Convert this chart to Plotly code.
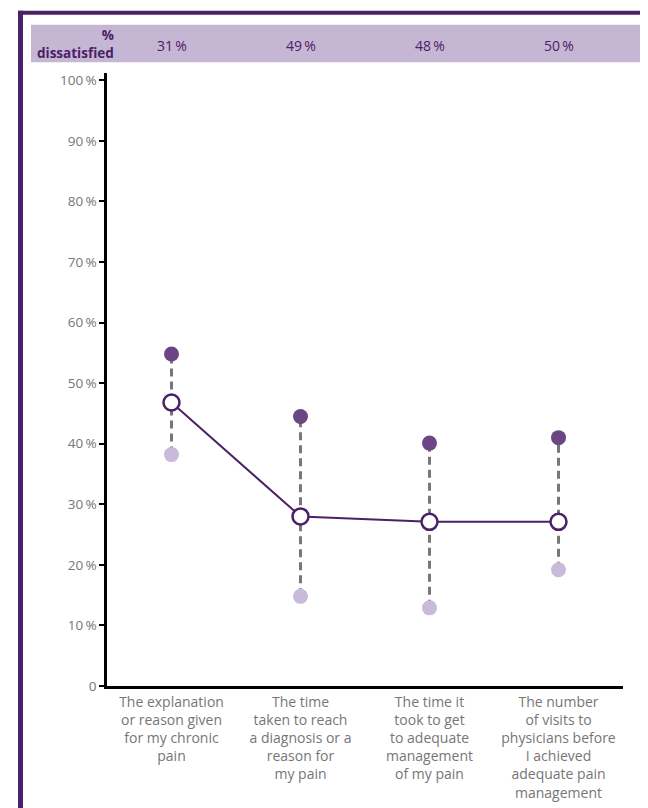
import plotly.graph_objects as go

categories = [
    "The explanation<br>or reason given<br>for my chronic<br>pain",
    "The time<br>taken to reach<br>a diagnosis or a<br>reason for<br>my pain",
    "The time it<br>took to get<br>to adequate<br>management<br>of my pain",
    "The number<br>of visits to<br>physicians before<br>I achieved<br>adequate pain<br>management",
]
dissatisfied = ["31\u2009%", "49\u2009%", "48\u2009%", "50\u2009%"]
top_values = [54.8, 44.5, 40.1, 41.0]
mid_values = [46.8, 28.0, 27.1, 27.1]
low_values = [38.2, 14.8, 12.9, 19.2]
y_ticks = [0, 10, 20, 30, 40, 50, 60, 70, 80, 90, 100]
y_ticklabels = ["0"] + [f"{v}\u2009%" for v in y_ticks[1:]]

YMAX = 101.2
OFF = 8  # page body margin
W, H = 648 - OFF, 808 - OFF
# page px positions of the plot area
PL, PR, PB = 107, 623, 686
P100 = 80.5
PT = PB - YMAX / 100 * (PB - P100)
L, R, T, B = PL - OFF, PR - OFF, PT - OFF, PB - OFF
PW, PH = R - L, B - T

def px(x):
    return (x - OFF - L) / PW

def py(y):
    return (B - (y - OFF)) / PH

DARK = "#4a2168"
TOPC = "#6b4584"
LOWC = "#c8bad8"
BAND = "#c5b7d3"
GRAY = "#767676"
FONT = "Open Sans"

xs = list(range(len(categories)))

# dashed connectors
dx, dy = [], []
for i in xs:
    dx += [i, i, None]
    dy += [low_values[i], top_values[i], None]

fig = go.Figure()
fig.add_trace(go.Scatter(x=dx, y=dy, mode="lines",
                         line=dict(color="#777777", width=3, dash="8px,5px"),
                         hoverinfo="skip", showlegend=False))
fig.add_trace(go.Scatter(x=xs, y=top_values, mode="markers",
                         marker=dict(color=TOPC, size=15), showlegend=False))
fig.add_trace(go.Scatter(x=xs, y=low_values, mode="markers",
                         marker=dict(color=LOWC, size=15), showlegend=False))
fig.add_trace(go.Scatter(x=xs, y=mid_values, mode="lines+markers",
                         line=dict(color=DARK, width=2),
                         marker=dict(color="white", size=16,
                                     line=dict(color=DARK, width=2.5)),
                         showlegend=False))

shapes = [
    # band
    dict(type="rect", xref="paper", yref="paper", x0=px(31), x1=px(670),
         y0=py(62.5), y1=py(25), fillcolor=BAND, line=dict(width=0), layer="below"),
    # frame top
    dict(type="rect", xref="paper", yref="paper", x0=px(18), x1=px(670),
         y0=py(15), y1=py(11), fillcolor=DARK, line=dict(width=0)),
    # frame left
    dict(type="rect", xref="paper", yref="paper", x0=px(18), x1=px(23),
         y0=py(830), y1=py(11), fillcolor=DARK, line=dict(width=0)),
]

annotations = [
    dict(xref="paper", yref="paper", x=px(116), y=py(44), xanchor="right",
         yanchor="middle", align="right", showarrow=False,
         text="<b>%<br>dissatisfied</b>",
         font=dict(family=FONT, size=13.5, color=DARK)),
]
for i, t in enumerate(dissatisfied):
    annotations.append(dict(xref="x", yref="paper", x=i, y=py(46),
                            xanchor="center", yanchor="middle", showarrow=False,
                            text=t, font=dict(family=FONT, size=14, color=DARK)))

fig.update_layout(
    width=W, height=H,
    margin=dict(l=L, r=W - R, t=T, b=H - B, pad=0, autoexpand=False),
    paper_bgcolor="white", plot_bgcolor="white",
    font=dict(family=FONT, size=13, color=GRAY),
    shapes=shapes, annotations=annotations,
    xaxis=dict(range=[-0.5, 3.5], tickvals=xs, ticktext=categories,
               showgrid=False, zeroline=False, showline=True,
               linecolor="black", linewidth=2.5, ticks="",
               ticklabelstandoff=1, automargin=False,
               tickfont=dict(family=FONT, size=14, color=GRAY), fixedrange=True),
    yaxis=dict(range=[0, YMAX], tickvals=y_ticks, ticktext=y_ticklabels,
               showgrid=False, zeroline=False, showline=True,
               linecolor="black", linewidth=2.5, ticks="outside",
               ticklen=5, tickwidth=2, tickcolor="black", automargin=False,
               tickfont=dict(family=FONT, size=13.5, color=GRAY), fixedrange=True),
)

fig.write_html("out.html")
